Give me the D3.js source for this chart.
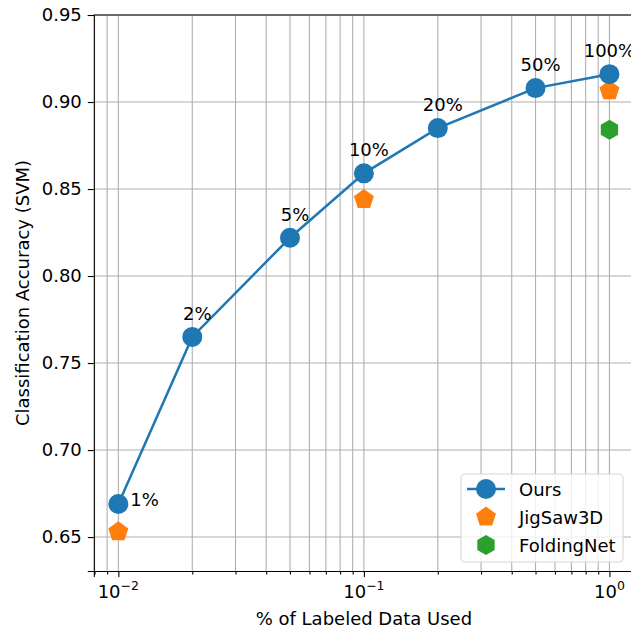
<!DOCTYPE html>
<html>
<head>
<meta charset="utf-8">
<script src="https://d3js.org/d3.v7.min.js"></script>
<style>
  body { margin: 0; background: #fff; }
  text { font-family: "DejaVu Sans", sans-serif; }
</style>
</head>
<body>
<div id="chart"></div>
<script>
// data
const fractions = [0.01, 0.02, 0.05, 0.1, 0.2, 0.5, 1.0]
const pctLabels = ["1%", "2%", "5%", "10%", "20%", "50%", "100%"]
const oursAcc = [0.669, 0.765, 0.822, 0.859, 0.885, 0.908, 0.916]
const jigsawX = [0.01, 0.1, 1.0]
const jigsawAcc = [0.653, 0.844, 0.9065]
const foldingX = [1.0]
const foldingAcc = [0.884]
const yTicks = [0.65, 0.70, 0.75, 0.80, 0.85, 0.90, 0.95]
const xMajor = [0.01, 0.1, 1]
const xMajorExp = ["−2", "−1", "0"]

const W = 631, H = 629
const margin = {left: 93.8, top: 15, right: 634, bottom: 571}
const fs = 18

const svg = d3.select('#chart').append('svg')
  .attr('width', W).attr('height', H)

// matplotlib-style 5% margin on the log axis
const x = d3.scaleLog().domain([0.01 / Math.pow(10, 0.1), 1 * Math.pow(10, 0.1)])
  .range([margin.left, margin.right])
const y = d3.scaleLinear().domain([0.6305, 0.95]).range([margin.bottom, margin.top])

const blue = '#1f77b4', orange = '#ff7f0e', green = '#2ca02c'

// minor x ticks within the domain
const xMinor = []
for (let e = -3; e <= 0; e++) {
  for (let m = 2; m <= 9; m++) {
    const v = m * Math.pow(10, e)
    if (v > x.domain()[0] && v < x.domain()[1]) xMinor.push(v)
  }
}

const grid = svg.append('g').attr('stroke', '#b0b0b0').attr('stroke-width', 1.1)
grid.selectAll('.xg').data(xMinor.concat(xMajor)).join('line')
  .attr('x1', d => x(d)).attr('x2', d => x(d))
  .attr('y1', margin.top).attr('y2', margin.bottom)
grid.selectAll('.yg').data(yTicks).join('line')
  .attr('y1', d => y(d)).attr('y2', d => y(d))
  .attr('x1', margin.left).attr('x2', margin.right)

// axes
const xAxis = d3.axisBottom(x).tickValues(xMajor).tickSize(6).tickFormat('')
const xAxisMinor = d3.axisBottom(x).tickValues(xMinor).tickSize(3.5).tickFormat('')
const yAxis = d3.axisLeft(y).tickValues(yTicks).tickSize(6).tickFormat(d3.format('.2f'))

svg.append('g').attr('transform', `translate(0,${margin.bottom})`).call(xAxis)
svg.append('g').attr('transform', `translate(0,${margin.bottom})`).call(xAxisMinor)
  .call(g => g.select('.domain').remove())
const gy = svg.append('g').attr('transform', `translate(${margin.left},0)`).call(yAxis)
gy.selectAll('text').attr('font-size', fs).attr('fill', '#000').attr('font-family', 'DejaVu Sans')
  .attr('x', -12)
svg.selectAll('.domain').attr('stroke', '#000').attr('stroke-width', 1.1)
svg.selectAll('.tick line').attr('stroke', '#000').attr('stroke-width', 1.1)

// top spine
svg.append('line').attr('x1', margin.left).attr('x2', margin.right)
  .attr('y1', margin.top).attr('y2', margin.top).attr('stroke', '#000').attr('stroke-width', 1.1)

// x tick labels with superscripts
const xl = svg.append('g').selectAll('text').data(xMajor).join('text')
  .attr('x', d => x(d)).attr('y', 598).attr('text-anchor', 'middle').attr('font-size', fs)
xl.append('tspan').text('10')
xl.append('tspan').attr('dy', -8).attr('font-size', 12.5).text((d, i) => xMajorExp[i])

// axis titles
svg.append('text').attr('x', (margin.left + margin.right) / 2).attr('y', 625)
  .attr('text-anchor', 'middle').attr('font-size', fs).text('% of Labeled Data Used')
svg.append('text').attr('transform', `translate(29,${(margin.top + margin.bottom) / 2}) rotate(-90)`)
  .attr('text-anchor', 'middle').attr('font-size', fs).text('Classification Accuracy (SVM)')

// ours line + markers
const line = d3.line().x(d => x(d[0])).y(d => y(d[1]))
const ours = fractions.map((f, i) => [f, oursAcc[i]])
svg.append('path').datum(ours).attr('d', line).attr('fill', 'none')
  .attr('stroke', blue).attr('stroke-width', 2.5)

const polygon = (n, r, rot) => {
  const pts = []
  for (let k = 0; k < n; k++) {
    const a = rot + k * 2 * Math.PI / n
    pts.push([r * Math.sin(a), -r * Math.cos(a)])
  }
  return 'M' + pts.map(p => p.join(',')).join('L') + 'Z'
}

svg.append('g').selectAll('path').data(jigsawX).join('path')
  .attr('transform', (d, i) => `translate(${x(d)},${y(jigsawAcc[i])})`)
  .attr('d', polygon(5, 10.5, 0)).attr('fill', orange)
svg.append('g').selectAll('path').data(foldingX).join('path')
  .attr('transform', (d, i) => `translate(${x(d)},${y(foldingAcc[i])})`)
  .attr('d', polygon(6, 10, 0)).attr('fill', green)

svg.append('g').selectAll('circle').data(ours).join('circle')
  .attr('cx', d => x(d[0])).attr('cy', d => y(d[1])).attr('r', 10).attr('fill', blue)

// percentage annotations
const last = ours.length - 1
svg.append('g').selectAll('text').data(ours).join('text')
  .attr('x', (d, i) => i === 0 ? x(d[0]) + 12 : x(d[0]) + (i === last ? 0 : 5))
  .attr('y', (d, i) => i === 0 ? y(d[1]) + 2 : y(d[1]) - 17)
  .attr('text-anchor', (d, i) => i === 0 ? 'start' : 'middle')
  .attr('font-size', fs).text((d, i) => pctLabels[i])

// legend
const lg = svg.append('g')
lg.append('rect').attr('x', 461).attr('y', 474).attr('width', 162).attr('height', 88)
  .attr('rx', 4).attr('fill', '#fff').attr('fill-opacity', 0.8)
  .attr('stroke', '#d6d6d6').attr('stroke-width', 1.1)
const items = [
  {name: 'Ours', kind: 'circle'},
  {name: 'JigSaw3D', kind: 'pent'},
  {name: 'FoldingNet', kind: 'hex'}
]
items.forEach((it, i) => {
  const cy = 489 + i * 28
  if (it.kind === 'circle') {
    lg.append('line').attr('x1', 467).attr('x2', 505).attr('y1', cy).attr('y2', cy)
      .attr('stroke', blue).attr('stroke-width', 2.5)
    lg.append('circle').attr('cx', 486).attr('cy', cy).attr('r', 10).attr('fill', blue)
  } else if (it.kind === 'pent') {
    lg.append('path').attr('transform', `translate(486,${cy})`).attr('d', polygon(5, 10.5, 0)).attr('fill', orange)
  } else {
    lg.append('path').attr('transform', `translate(486,${cy})`).attr('d', polygon(6, 10, 0)).attr('fill', green)
  }
  lg.append('text').attr('x', 519).attr('y', cy + 6.5).attr('font-size', fs).text(it.name)
})
</script>
</body>
</html>
